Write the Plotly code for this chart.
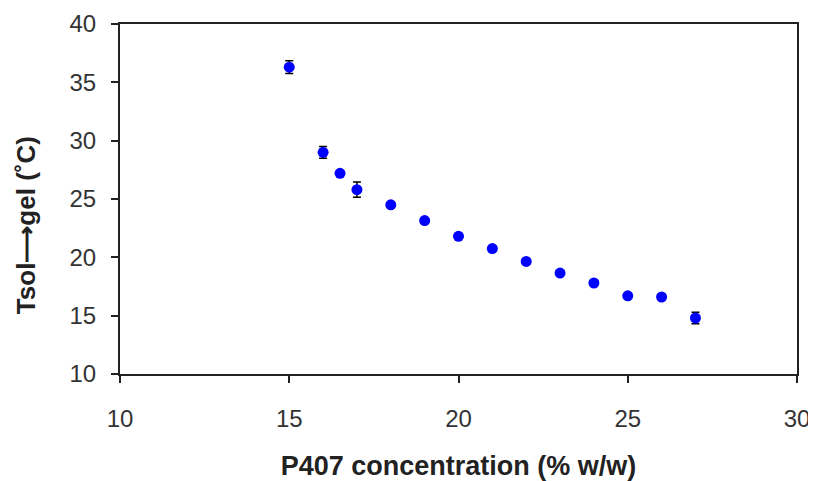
import plotly.graph_objects as go

# P407 concentration (% w/w) and sol-gel transition temperature (C)
conc = [15, 16, 16.5, 17, 18, 19, 20, 21, 22, 23, 24, 25, 26, 27]
tsolgel = [36.3, 29.0, 27.2, 25.8, 24.5, 23.15, 21.8, 20.75, 19.65, 18.65, 17.8, 16.7, 16.6, 14.8]
err = [0.55, 0.5, 0.15, 0.65, 0.2, 0.15, 0.15, 0.15, 0.15, 0.15, 0.15, 0.15, 0.15, 0.5]

x_ticks = [10, 15, 20, 25, 30]
y_ticks = [10, 15, 20, 25, 30, 35, 40]

fig = go.Figure(go.Scatter(
    x=conc,
    y=tsolgel,
    mode='markers',
    marker=dict(size=11, color='#0000FF'),
    error_y=dict(type='data', array=err, color='black', thickness=1.5, width=4),
))

axis_style = dict(
    showgrid=False, zeroline=False, showline=True, linecolor='#222222', linewidth=2,
    mirror=True, ticks='outside', ticklen=7, tickwidth=2, tickcolor='#222222',
    tickfont=dict(family='Liberation Sans, Arial', size=24, color='#333333'),
)
title_font = dict(family='Liberation Sans, Arial', size=27, color='#222222')

# page body has an 8px margin, so the figure is a bit smaller than the window
fig.update_layout(
    width=808, height=473,
    margin=dict(l=112, r=19, t=16, b=107),
    paper_bgcolor='white', plot_bgcolor='white',
    showlegend=False,
    xaxis=dict(range=[10, 30], tickvals=x_ticks, ticklabelstandoff=15, automargin=False,
               title=dict(text='<b>P407 concentration (% w/w)</b>', standoff=26, font=title_font),
               **axis_style),
    yaxis=dict(range=[10, 40], tickvals=y_ticks, ticklabelstandoff=10, automargin=False,
               **axis_style),
)

# y title sits a little below the middle of the axis in the original
fig.add_annotation(
    text='<b>Tsol⟶gel (˚C)</b>', textangle=-90, showarrow=False,
    xref='paper', yref='paper', x=-0.139, y=0.425, xanchor='center', yanchor='middle',
    font=dict(family='Liberation Sans, Arial', size=26, color='#222222'),
)

fig.write_html("out.html")
